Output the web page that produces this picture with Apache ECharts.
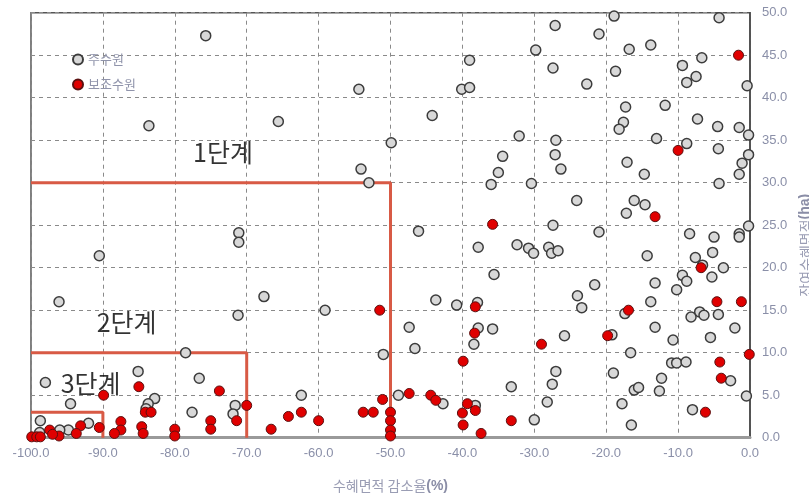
<!DOCTYPE html>
<html><head><meta charset="utf-8">
<script src="https://cdn.jsdelivr.net/npm/echarts@6/dist/echarts.min.js"></script>
<style>html,body{margin:0;padding:0;background:#fff}#c{width:809px;height:500px}</style>
</head><body><div id="c"></div>
<script>
// x ticks / y ticks
const xTicks = [-100,-90,-80,-70,-60,-50,-40,-30,-20,-10,0];
const yTicks = [0,5,10,15,20,25,30,35,40,45,50];
// 주수원 (main water source)
const mainX = [-75.7,-83.6,-71.1,-71.1,-90.5,-96.1,-71.2,-67.6,-78.5,-85.1,-76.6,-98.0,-94.5,-82.8,-83.7,-84.0,-77.6,-71.6,-71.9,-92.0,-94.8,-96.0,-98.7,-98.8,
 -65.6,-54.4,-49.9,-54.1,-53.0,-46.1,-44.2,-39.0,-40.1,-39.0,-29.8,-32.1,-34.4,-35.0,-36.0,-30.4,-37.8,-32.4,-30.8,-30.1,-28.0,-27.6,-26.7,-35.6,-59.1,-51.0,-62.4,-48.9,-42.7,-43.7,-47.4,-46.6,-40.8,-37.9,-37.8,-35.8,-38.4,-33.2,-38.2,-30.0,-27.0,-27.5,-28.2,
 -27.1,-27.4,-21.0,-18.9,-22.7,-16.8,-13.8,-18.7,-17.3,-11.8,-17.6,-18.2,-13.0,-27.0,-27.1,-26.3,-17.1,-14.7,-8.8,-9.4,-6.7,-8.8,-7.5,-4.3,-0.4,-7.3,-4.5,-1.5,-0.2,-4.4,-0.2,-1.1,-1.5,-4.3,
 -24.1,-16.1,-14.6,-17.2,-27.4,-21.0,-8.4,-5.0,-1.5,-1.5,-0.2,-14.3,-7.6,-5.2,-6.6,-3.7,-5.3,-9.4,-8.8,-13.2,-10.2,-21.6,-24.0,-23.4,-17.4,-13.8,-7.0,-8.2,-6.4,-4.4,-2.1,-13.2,-5.5,-10.7,-25.8,-19.2,-16.6,-10.9,-10.2,-8.9,-19.0,-12.3,-2.7,-16.1,-15.5,-12.6,-0.5,-17.8,-8.0,-16.5];
const mainY = [47.3,36.7,24.1,23.0,21.4,16.0,14.4,16.6,10.0,7.8,7.0,6.5,4.0,4.6,4.0,3.4,3.0,3.8,2.8,1.7,0.9,0.9,2.0,0.6,
 37.2,41.0,34.7,31.6,30.0,24.3,37.9,44.4,41.0,41.2,45.6,35.5,33.1,31.2,29.8,29.9,22.4,22.7,22.3,21.7,22.4,21.7,22.0,19.2,15.0,9.8,5.0,5.0,4.0,16.2,13.0,10.5,15.6,15.9,12.9,12.8,11.0,6.0,3.8,2.1,7.8,6.3,4.2,
 48.5,43.5,47.5,49.6,41.6,45.7,46.2,43.1,38.9,39.1,37.1,36.3,35.2,35.0,33.3,31.6,32.4,31.0,34.6,43.8,44.7,41.8,42.5,49.4,41.4,37.5,36.6,36.5,35.6,34.0,33.3,32.3,31.0,29.9,
 27.9,27.9,27.4,26.4,25.0,24.2,24.0,23.6,24.0,23.6,24.9,21.4,21.2,21.8,20.3,20.0,18.9,19.1,18.4,18.2,17.4,18.0,16.7,15.3,14.6,16.0,14.8,14.2,14.4,14.5,12.9,13.0,11.8,11.5,12.0,12.1,10.0,8.8,8.8,8.9,7.6,7.0,6.7,5.6,5.9,5.5,4.9,4.0,3.3,1.5];
// 보조수원 (auxiliary water source)
const auxX = [-85.0,-89.9,-73.8,-84.1,-83.3,-70.0,-71.4,-75.0,-75.0,-80.0,-80.0,-87.5,-87.5,-88.4,-84.6,-84.4,-90.5,-93.1,-93.7,-96.1,-97.4,-97.0,-99.9,-99.2,-98.7,
 -51.5,-51.1,-64.2,-62.4,-66.6,-60.0,-53.8,-52.4,-50.0,-50.0,-50.0,-50.0,-47.4,-44.4,-43.7,-38.2,-38.3,-39.9,-39.3,-38.2,-40.0,-39.9,-37.4,-33.2,-29.0,-35.8,
 -10.0,-1.6,-13.2,-6.8,-16.9,-4.6,-1.2,-19.8,-0.1,-4.2,-4.0,-6.2];
const auxY = [6.0,5.0,5.5,3.0,3.0,3.8,2.0,2.0,1.0,1.0,0.2,1.9,0.9,0.5,1.3,0.5,1.2,1.4,0.5,0.2,0.9,0.4,0.1,0.1,0.1,
 15.0,4.5,2.5,3.0,1.0,2.0,3.0,3.0,3.0,2.0,0.9,0.2,5.2,5.0,4.4,15.4,12.3,9.0,4.0,3.2,2.9,1.5,0.5,2.0,11.0,25.1,
 33.8,45.0,26.0,20.0,15.0,16.0,16.0,12.0,9.8,8.9,7.0,3.0];
// stage boxes: 감소율 threshold and 잔여면적 threshold
const stageNames = ['1단계','2단계','3단계'];
const stageXLimit = [-50,-70,-90];
const stageYLimit = [30,10,3];
const stageLabelX = [-73.3,-86.7,-91.7];
const stageLabelY = [33.6,13.5,6.4];

const zip = (a,b) => a.map((v,i)=>[v,b[i]]);
const font = '"Noto Sans CJK KR","Noto Sans",sans-serif';
const numFont = '"Liberation Sans",Arial,sans-serif';
const boxSeries = stageXLimit.map((xl,i)=>({
  type:'line', silent:true, symbol:'none', z:3,
  lineStyle:{color:'#d85a45', width:3},
  data:[[xTicks[0], stageYLimit[i]],[xl, stageYLimit[i]],[xl, yTicks[0]]]
}));
const chart = echarts.init(document.getElementById('c'), null, {renderer:'canvas'});
chart.setOption({
  animation:false,
  textStyle:{fontFamily:font},
  grid:{left:31,right:59,top:12.7,bottom:62.3,outerBoundsMode:'none',containLabel:false,show:true,borderColor:'#555',borderWidth:1.5},
  legend:{
    orient:'vertical', left:67, top:48, itemGap:12, itemWidth:10, itemHeight:10,
    data:['주수원','보조수원'],
    textStyle:{color:'#9094ab', fontSize:13, fontFamily:font}
  },
  xAxis:{
    type:'value', min:-100, max:0, interval:10,
    name:'수혜면적 감소율{b|(%)}', nameLocation:'middle', nameGap:41,
    nameTextStyle:{color:'#9a9db4', fontSize:14, fontFamily:font,
      rich:{b:{fontWeight:'bold', color:'#8a8da6', fontSize:14, fontFamily:numFont}}},
    axisLine:{show:true, onZero:false, lineStyle:{color:'#9a9a9a', width:3}},
    axisTick:{show:false},
    axisLabel:{color:'#8a8fa8', fontSize:13, margin:9, fontFamily:numFont, formatter:v=>v.toFixed(1)},
    splitLine:{show:true, lineStyle:{color:'#8a8a8a', type:[4,4], width:1}}
  },
  yAxis:{
    type:'value', position:'right', min:0, max:50, interval:5,
    name:'잔여수혜면적{b|(ha)}', nameLocation:'middle', nameGap:43,
    nameTextStyle:{color:'#9a9db4', fontSize:14, fontFamily:font, padding:[0,40,0,0],
      rich:{b:{fontWeight:'bold', color:'#8a8da6', fontSize:14, fontFamily:numFont}}},
    axisLine:{show:true, lineStyle:{color:'#444', width:1.5}},
    axisTick:{show:false},
    axisLabel:{color:'#8a8fa8', fontSize:13, margin:12, fontFamily:numFont, formatter:v=>v.toFixed(1)},
    splitLine:{show:true, lineStyle:{color:'#8a8a8a', type:[4,4], width:1}}
  },
  series:[
    {name:'주수원', type:'scatter', symbol:'circle', symbolSize:10, z:4,
     itemStyle:{color:'#d8d8d8', borderColor:'#3c3c3c', borderWidth:1.5, opacity:1},
     data:zip(mainX, mainY)},
    ...boxSeries,
    {name:'보조수원', type:'scatter', symbol:'circle', symbolSize:10, z:5,
     itemStyle:{color:'#e00000', borderColor:'#5a1010', borderWidth:1, opacity:1},
     data:zip(auxX, auxY)},
    {name:'stageLabels', type:'scatter', symbolSize:0, silent:true, z:6,
     label:{show:true, position:'inside', color:'#000', fontSize:25, fontFamily:font,
       formatter:p=>stageNames[p.dataIndex]},
     data:zip(stageLabelX, stageLabelY)}
  ]
});
</script></body></html>
